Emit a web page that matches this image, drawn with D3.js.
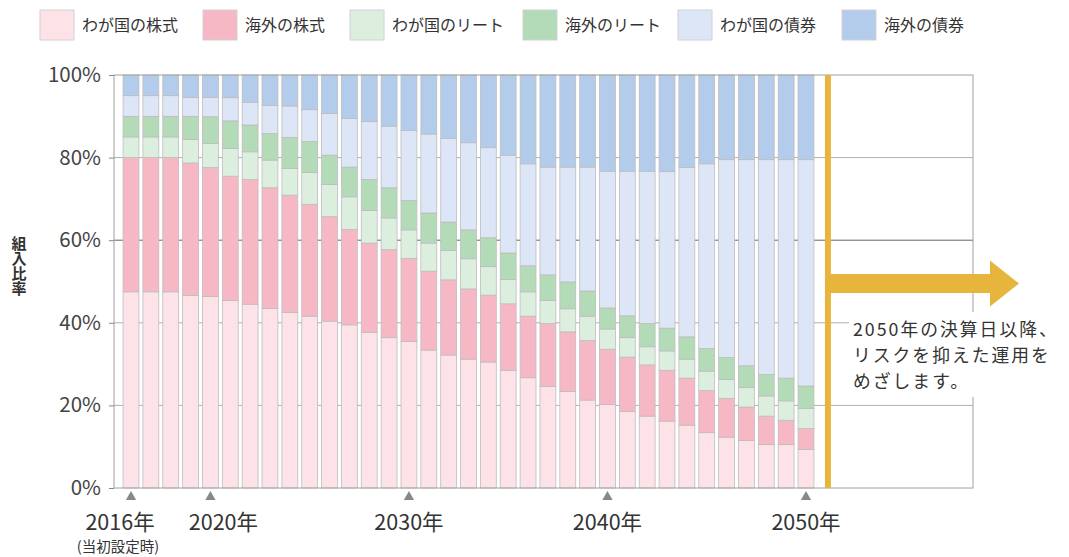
<!DOCTYPE html>
<html>
<head>
<meta charset="utf-8">
<script src="https://cdn.jsdelivr.net/npm/d3@7"></script>
<style>
body{margin:0;background:#fff;}
svg{font-family:"Noto Sans CJK JP","Noto Sans",sans-serif;}
</style>
</head>
<body>
<div id="chart"></div>
<script>
//Categories
var years = [2016,2017,2018,2019,2020,2021,2022,2023,2024,2025,2026,2027,2028,2029,2030,2031,2032,2033,2034,2035,
             2036,2037,2038,2039,2040,2041,2042,2043,2044,2045,2046,2047,2048,2049,2050];

//Series values (%)
var domesticStocks = [47.5,47.5,47.5,46.6,46.4,45.4,44.5,43.5,42.5,41.6,40.4,39.5,37.7,36.4,35.5,33.4,32.2,31.2,30.5,28.5,
                      26.7,24.6,23.4,21.3,20.2,18.5,17.4,16.2,15.2,13.4,12.3,11.5,10.5,10.5,9.3];
var foreignStocks  = [32.5,32.5,32.5,32.1,31.2,30.1,30.2,29.2,28.4,27.1,25.3,23.1,21.6,21.3,20.1,19.1,18.2,17.0,16.2,16.1,
                      14.9,15.2,14.4,14.4,13.4,13.2,12.4,12.3,11.4,10.2,9.4,8.1,6.9,5.9,5.1];
var domesticReit   = [5,5,5,5.7,5.8,6.7,6.7,6.7,6.5,7.7,7.8,7.9,7.9,7.7,6.9,6.8,7.1,7.3,6.9,5.9,
                      5.9,5.6,5.6,5.9,4.9,4.7,4.4,4.7,4.6,4.7,4.6,4.7,4.9,4.7,4.9];
var foreignReit    = [5,5,5,5.6,6.5,6.7,6.5,6.4,7.5,7.5,7.1,7.2,7.5,7.3,7.1,7.3,6.9,7.0,7.0,6.4,
                      6.3,6.2,6.5,6.1,5.1,5.3,5.6,5.5,5.4,5.5,5.3,5.3,5.2,5.5,5.4];
var domesticBonds  = [5,5,5,4.6,4.7,5.6,5.5,6.8,7.6,7.7,10.1,11.8,14.0,14.9,17.0,19.1,20.2,21.1,21.8,23.7,
                      24.7,26.1,27.8,30.0,33.1,35.0,36.9,37.9,41.0,44.7,47.9,49.9,52.0,52.9,54.8];
var foreignBonds   = [5,5,5,5.4,5.4,5.5,6.6,7.4,7.5,8.4,9.3,10.5,11.3,12.4,13.4,14.3,15.4,16.4,17.6,19.4,
                      21.5,22.3,22.3,22.3,23.3,23.3,23.3,23.4,22.4,21.5,20.5,20.5,20.5,20.5,20.5];

var seriesNames = ["わが国の株式","海外の株式","わが国のリート","海外のリート","わが国の債券","海外の債券"];
var seriesColors = ["#fde2e8","#f7b8c5","#dcefdf","#b4dbb7","#dde6f7","#b4cceb"];

//Tick labels
var yTicks = [0,0.2,0.4,0.6,0.8,1];
var tickYears = [2016,2020,2030,2040,2050];
var tickLabels = ["2016年","2020年","2030年","2040年","2050年"];
var firstTickNote = "(当初設定時)";
var yTitle = "組入比率";
var noteLines = ["2050年の決算日以降、","リスクを抑えた運用を","めざします。"];

//Build table for d3.stack
var allSeries = [domesticStocks,foreignStocks,domesticReit,foreignReit,domesticBonds,foreignBonds];
var table = years.map(function(yr,i){
    var row = {year:yr};
    seriesNames.forEach(function(k,j){ row[k] = allSeries[j][i]; });
    return row;
});

var svgWidth = 1069, svgHeight = 557;
var plot = {left:114, right:973, top:75, bottom:488};

var svg = d3.select("#chart").append("svg")
    .attr("width",svgWidth)
    .attr("height",svgHeight);

var xScale = d3.scaleBand()
    .domain(years)
    .range([121, 816])
    .paddingInner(0.2)
    .paddingOuter(0.104);

var yScale = d3.scaleLinear()
    .domain([0,1])
    .range([plot.bottom, plot.top]);

var color = d3.scaleOrdinal().domain(seriesNames).range(seriesColors);

//Legend
var legendX = [40,203,350,523,678,842];
var legend = svg.append("g").selectAll("g")
    .data(seriesNames)
    .enter().append("g")
    .attr("transform",(d,i) => `translate(${legendX[i]},10)`);
legend.append("rect")
    .attr("width",34).attr("height",30)
    .attr("fill",d => color(d))
    .attr("stroke","#d2d2d2");
legend.append("text")
    .attr("x",42).attr("y",21)
    .attr("font-size","16px")
    .attr("fill","#333")
    .text(d => d);

//Gridlines behind bars
svg.append("g").selectAll("line")
    .data([0.2,0.4,0.6,0.8])
    .enter().append("line")
    .attr("x1",plot.left).attr("x2",plot.right)
    .attr("y1",d => yScale(d)).attr("y2",d => yScale(d))
    .attr("stroke",d => d === 0.6 ? "#666" : "#b0b0b0")
    .attr("stroke-width",1);

//Stacked bars
var stacked = d3.stack().keys(seriesNames).offset(d3.stackOffsetExpand)(table);

svg.append("g").selectAll("g")
    .data(stacked)
    .enter().append("g")
    .attr("fill",d => color(d.key))
    .selectAll("rect")
    .data(d => d)
    .enter().append("rect")
    .attr("x",d => xScale(d.data.year))
    .attr("y",d => yScale(d[1]))
    .attr("width",xScale.bandwidth())
    .attr("height",d => yScale(d[0]) - yScale(d[1]))
    .attr("stroke","#bdbdbd")
    .attr("stroke-width",0.8);

//Frame
svg.append("rect")
    .attr("x",plot.left).attr("y",plot.top)
    .attr("width",plot.right-plot.left).attr("height",plot.bottom-plot.top)
    .attr("fill","none")
    .attr("stroke","#a0a0a0");

//Y axis
var leftAxis = d3.axisLeft(yScale)
    .tickValues(yTicks)
    .tickFormat(d3.format(".0%"))
    .tickSizeInner(5)
    .tickSizeOuter(0)
    .tickPadding(8);
var yAxisG = svg.append("g")
    .attr("transform",`translate(${plot.left},0)`)
    .call(leftAxis);
yAxisG.select(".domain").remove();
yAxisG.selectAll("line").attr("stroke","#888");
yAxisG.selectAll("text")
    .attr("font-size","20.5px")
    .attr("font-family","'Noto Sans CJK JP',sans-serif")
    .attr("fill","#444");

//Y title, written vertically
svg.append("text")
    .attr("x",19)
    .attr("y",236)
    .attr("font-size","15px")
    .attr("font-weight","bold")
    .attr("fill","#333")
    .style("writing-mode","vertical-rl")
    .style("text-orientation","upright")
    .text(yTitle);

//X axis: triangles and year labels
var bottomAxis = d3.axisBottom(xScale)
    .tickValues(tickYears)
    .tickFormat((d,i) => tickLabels[i])
    .tickSize(0)
    .tickPadding(27);
var xAxisG = svg.append("g")
    .attr("transform",`translate(0,${plot.bottom})`)
    .call(bottomAxis);
xAxisG.select(".domain").remove();
xAxisG.selectAll("text")
    .attr("font-size","21.5px")
    .attr("font-family","'Noto Sans CJK JP',sans-serif")
    .attr("fill","#333")
    .attr("dx",d => d === 2016 ? -11 : d === 2020 ? 13 : 0);
xAxisG.selectAll(".tick").append("path")
    .attr("d",d3.symbol(d3.symbolTriangle,46))
    .attr("transform","translate(0,9)")
    .attr("fill","#888");
svg.append("text")
    .attr("x",xScale(2016) + xScale.bandwidth()/2 - 13)
    .attr("y",552)
    .attr("text-anchor","middle")
    .attr("font-size","14.5px")
    .attr("fill","#333")
    .text(firstTickNote);

//Yellow marker line after last bar and arrow
var gold = "#e8b53c";
var lineX = xScale(2050) + xScale.bandwidth() + 14;
svg.append("rect")
    .attr("x",lineX-3).attr("y",plot.top)
    .attr("width",6).attr("height",plot.bottom-plot.top)
    .attr("fill",gold);
var arrowY = 283.5;
svg.append("path")
    .attr("d",`M${lineX},${arrowY-9.5} L990,${arrowY-9.5} L990,${arrowY-23} L1019,${arrowY} L990,${arrowY+23} L990,${arrowY+9.5} L${lineX},${arrowY+9.5} Z`)
    .attr("fill",gold);

//Note text with white box
svg.append("rect")
    .attr("x",849).attr("y",312)
    .attr("width",220).attr("height",85)
    .attr("fill","#fff");
svg.append("g").selectAll("text")
    .data(noteLines)
    .enter().append("text")
    .attr("x",853)
    .attr("y",(d,i) => 336 + i*26)
    .attr("font-size","17.8px")
    .attr("letter-spacing","2px")
    .attr("fill","#333")
    .text(d => d);
</script>
</body>
</html>
